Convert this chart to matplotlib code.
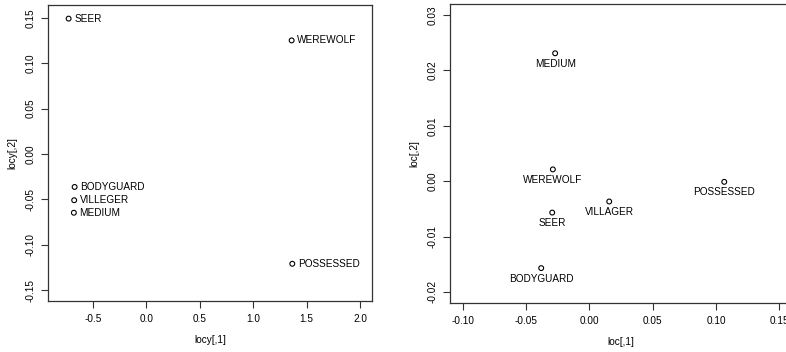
import matplotlib
matplotlib.use("Agg")
import matplotlib.pyplot as plt

plt.rcParams['font.family'] = ['Liberation Sans', 'DejaVu Sans']

# left panel: locy
left_names = ["SEER", "WEREWOLF", "BODYGUARD", "VILLEGER", "MEDIUM", "POSSESSED"]
left_x = [-0.727, 1.360, -0.671, -0.675, -0.678, 1.366]
left_y = [0.149, 0.125, -0.0364, -0.051, -0.0648, -0.121]

# right panel: loc
right_names = ["MEDIUM", "WEREWOLF", "SEER", "VILLAGER", "POSSESSED", "BODYGUARD"]
right_x = [-0.027, -0.0288, -0.0293, 0.0157, 0.1065, -0.038]
right_y = [0.0231, 0.00213, -0.00567, -0.00367, -0.00012, -0.0157]

left_xticks = [-0.5, 0.0, 0.5, 1.0, 1.5, 2.0]
left_yticks = [-0.15, -0.10, -0.05, 0.00, 0.05, 0.10, 0.15]
right_xticks = [-0.10, -0.05, 0.00, 0.05, 0.10, 0.15]
right_yticks = [-0.02, -0.01, 0.00, 0.01, 0.02, 0.03]

W, H = 786, 352
fig = plt.figure(figsize=(W / 100, H / 100), dpi=100)
ax1 = fig.add_axes([48 / W, 1 - 301 / H, (372 - 48) / W, (301 - 5) / H])
ax2 = fig.add_axes([450 / W, 1 - 303 / H, (792 - 450) / W, (303 - 4) / H])

fs = 7.2


def style(ax, xticks, yticks, xfmt, yfmt, xlabel, ylabel):
    ax.set_xticks(xticks)
    ax.set_xticklabels([xfmt % v for v in xticks], fontsize=fs)
    ax.set_yticks(yticks)
    ax.set_yticklabels([yfmt % v for v in yticks], fontsize=fs, rotation=90, va='center')
    ax.tick_params(direction='out', length=5, width=0.8, color='#333333', pad=4)
    for s in ax.spines.values():
        s.set_linewidth(0.9)
        s.set_color('#333333')
    ax.set_xlabel(xlabel, fontsize=fs, labelpad=8)
    ax.set_ylabel(ylabel, fontsize=fs, labelpad=6)


ax1.scatter(left_x, left_y, s=12, facecolors='none', edgecolors='black', linewidths=0.8)
for n, x, y in zip(left_names, left_x, left_y):
    ax1.annotate(n, (x, y), xytext=(4, 0), textcoords='offset points',
                 ha='left', va='center', fontsize=fs)
ax1.set_xlim(-0.92, 2.112)
ax1.set_ylim(-0.162, 0.164)
style(ax1, left_xticks, left_yticks, "%.1f", "%.2f", "locy[,1]", "locy[,2]")

ax2.scatter(right_x, right_y, s=12, facecolors='none', edgecolors='black', linewidths=0.8)
for n, x, y in zip(right_names, right_x, right_y):
    ax2.annotate(n, (x, y), xytext=(0, -4), textcoords='offset points',
                 ha='center', va='top', fontsize=fs)
ax2.set_xlim(-0.11, 0.16)
ax2.set_ylim(-0.022, 0.032)
style(ax2, right_xticks, right_yticks, "%.2f", "%.2f", "loc[,1]", "loc[,2]")

fig.savefig("out.png", dpi=100)
